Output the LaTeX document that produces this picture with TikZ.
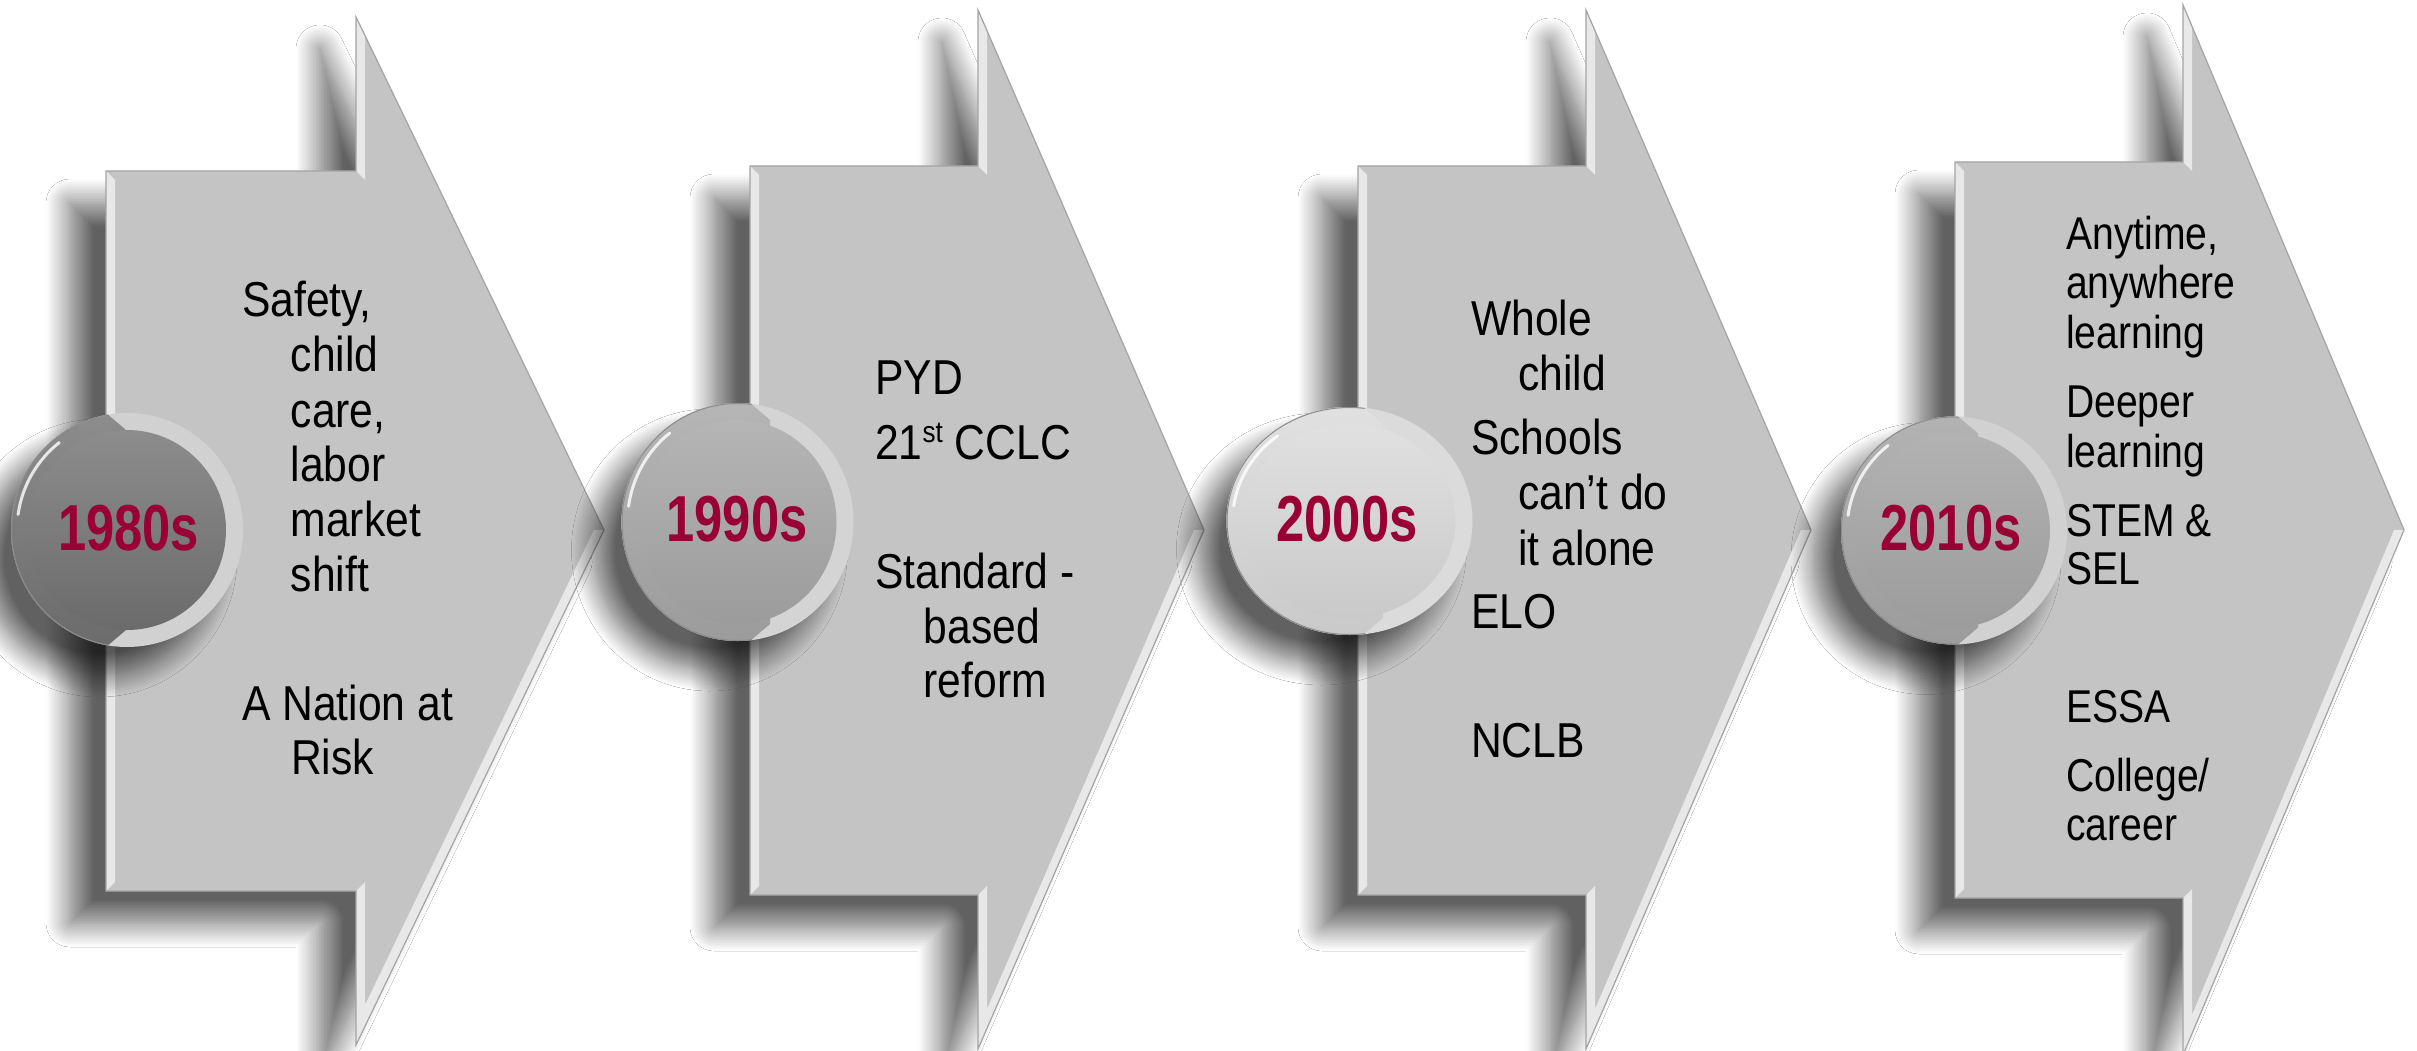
\documentclass[tikz,border=0pt]{standalone}
\usepackage{fontspec}
\setmainfont{Liberation Sans}
\newfontfamily\bodyfont[FakeStretch=0.87]{Liberation Sans}
\newfontfamily\smallbodyfont[FakeStretch=0.85]{Liberation Sans}
\newfontfamily\yearfont[FakeStretch=0.78]{Liberation Sans Bold}
\usetikzlibrary{shadows.blur}
\definecolor{arrowfill}{HTML}{C4C4C4}
\definecolor{bevelcol}{HTML}{E8E8E8}
\definecolor{edgegray}{HTML}{A4A4A4}
\definecolor{yearred}{HTML}{990033}
\tikzset{
  arrowbody/.style={fill=arrowfill, blur shadow={shadow xshift=-36pt, shadow yshift=-32pt, shadow blur radius=24pt, shadow opacity=62, shadow blur steps=16}},
  bevelstrip/.style={fill=bevelcol},
  arrowedge/.style={draw=edgegray, line width=1.2pt, line join=miter},
  badgeshadow/.style={blur shadow={shadow xshift=-28pt, shadow yshift=-28pt, shadow blur radius=22pt, shadow opacity=62, shadow blur steps=16}},
  txt/.style={anchor=base west, inner sep=0pt, font=\bodyfont\fontsize{49}{49}\selectfont, text=black},
  txts/.style={anchor=base west, inner sep=0pt, font=\smallbodyfont\fontsize{46}{46}\selectfont, text=black},
  yr/.style={anchor=base, inner sep=0pt, font=\yearfont\fontsize{65}{65}\selectfont, text=yearred}
}
% #1 L, #2 N (notch x), #3 T (tip x), #4 body top, #5 body bottom, #6 head top, #7 head bottom, #8 centre y
\newcommand\timearrow[8]{%
  \path[arrowbody] (#1,#4) -- (#2,#4) -- (#2,#6) -- (#3,#8) -- (#2,#7) -- (#2,#5) -- (#1,#5) -- cycle;
  \fill[bevelstrip] (#1,#4) -- ({#1+9},{#4+9}) -- ({#1+9},{#5-9}) -- (#1,#5) -- cycle;
  \fill[bevelstrip] (#2,#6) -- ({#2+9},{#6+19}) -- ({#2+9},{#4+9}) -- (#2,#4) -- cycle;
  \fill[bevelstrip] (#2,#5) -- ({#2+9},{#5-9}) -- ({#2+9},{#7-40}) -- ({#3-10},#8) -- (#3,#8) -- (#2,#7) -- cycle;
  \draw[arrowedge] (#1,#4) -- (#2,#4) -- (#2,#6) -- (#3,#8) -- (#2,#7) -- (#2,#5) -- (#1,#5) -- cycle;
}
% #1 cx, #2 cy, #3 rx, #4 ry, #5 arrow edge x, #6 top colour, #7 bottom colour, #8 ring colour
\newcommand\yearbadge[8]{%
  \fill[fill=#8, badgeshadow] (#1,#2) ellipse [x radius=#3, y radius=#4];
  \begin{scope}
    \clip ({#5-400},{#2-400}) -- (#5,{#2-400}) -- (#5,{#2-#4}) -- ({#5+20},{#2-#4+17}) -- ({#5+20},{#2+#4-17}) -- (#5,{#2+#4}) -- (#5,{#2+400}) -- ({#5-400},{#2+400}) -- cycle;
    \shade[top color=#6, bottom color=#7] (#1,#2) ellipse [x radius=#3, y radius=#4];
    \draw[black!45, line width=1pt] (#1,#2) ellipse [x radius={#3-0.5}, y radius={#4-0.5}];
  \end{scope}
  \shade[top color=#6, bottom color=#7] (#1,#2) ellipse [x radius={#3-17}, y radius={#4-17}];
  \draw[white, opacity=0.8, line width=3pt, line cap=round] (#1,#2) ++(188:{#3-6} and {#4-6}) arc [start angle=188, end angle=232, x radius={#3-6}, y radius={#4-6}];
}
\begin{document}
\begin{tikzpicture}[x=1pt, y=-1pt]
\useasboundingbox (0,0) rectangle (2417,1051);
\fill[white] (0,0) rectangle (2417,1051);

% ---- 1980s ----
\timearrow{106}{356}{604}{171}{891}{17}{1045}{530}
\yearbadge{127}{530}{116}{117}{106}{black!45}{black!58}{black!18}
\node[yr] (y1980) at (128.5,550.7) {1980s};
\node[txt] (a1) at (242,316) {Safety,};
\node[txt] (a2) at (290.5,371) {child};
\node[txt] (a3) at (290.5,427) {care,};
\node[txt] (a4) at (290.5,481) {labor};
\node[txt] (a5) at (290.5,536) {market};
\node[txt] (a6) at (290.5,591) {shift};
\node[txt] (a7) at (242,720.5) {A Nation at};
\node[txt] (a8) at (291,774) {Risk};

% ---- 1990s ----
\timearrow{750}{978}{1204}{166}{895}{10}{1049}{530}
\yearbadge{737.5}{522}{116}{119}{750}{black!29}{black!39}{black!17}
\node[yr] (y1990) at (737,541.7) {1990s};
\node[txt] (b1) at (875,394) {PYD};
\node[txt] (b2) at (875,459) {21\raisebox{17pt}{\fontsize{30}{30}\selectfont st} CCLC};
\node[txt] (b3) at (875,588.5) {Standard -};
\node[txt] (b4) at (923.4,643.4) {based};
\node[txt] (b5) at (923.4,697) {reform};

% ---- 2000s ----
\timearrow{1358}{1586}{1811}{166}{895}{10}{1049}{530}
\yearbadge{1349.5}{521}{123}{114}{1363}{black!12}{black!21}{black!14}
\node[yr] (y2000) at (1347,541.7) {2000s};
\node[txt] (c1) at (1471,335) {Whole};
\node[txt] (c2) at (1518,390) {child};
\node[txt] (c3) at (1471,454) {Schools};
\node[txt] (c4) at (1518,509) {can’t do};
\node[txt] (c5) at (1518,565) {it alone};
\node[txt] (c6) at (1471,628) {ELO};
\node[txt] (c7) at (1471,757) {NCLB};

% ---- 2010s ----
\timearrow{1955}{2183}{2404}{162}{898}{5}{1055}{530}
\yearbadge{1954}{530.5}{113}{114}{1958}{black!30}{black!39}{black!18}
\node[yr] (y2010) at (1951,550.7) {2010s};
\node[txts] (d1) at (2066,249) {Anytime,};
\node[txts] (d2) at (2066,298) {anywhere};
\node[txts] (d3) at (2066,348.5) {learning};
\node[txts] (d4) at (2066,417) {Deeper};
\node[txts] (d5) at (2066,467) {learning};
\node[txts] (d6) at (2066,536) {STEM \&};
\node[txts] (d7) at (2066,584.5) {SEL};
\node[txts] (d8) at (2066,722.5) {ESSA};
\node[txts] (d9) at (2066,791) {College/};
\node[txts] (d10) at (2066,840) {career};
\end{tikzpicture}
\end{document}
